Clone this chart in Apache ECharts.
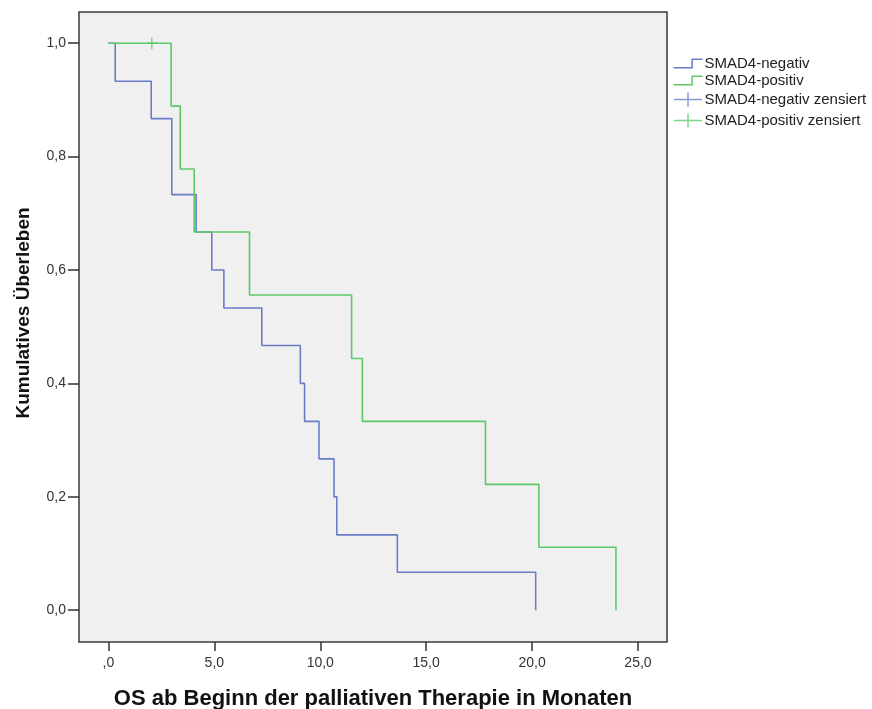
<!DOCTYPE html>
<html>
<head>
<meta charset="utf-8">
<script src="https://cdn.jsdelivr.net/npm/echarts@6/dist/echarts.min.js"></script>
<style>
  html, body { margin: 0; padding: 0; background: #fff; }
  #chart { width: 872px; height: 709px; }
</style>
</head>
<body>
<div id="chart"></div>
<script>
// Kaplan-Meier Daten (Zeit in Monaten, kumulatives Überleben)
var negTimes = [0, 0.32, 2.02, 2.99, 4.14, 4.88, 5.45, 7.24, 9.06, 9.26, 9.94, 10.65, 10.78, 13.64, 20.17];
var negSurv  = [1.0, 0.933, 0.867, 0.733, 0.667, 0.600, 0.533, 0.467, 0.400, 0.333, 0.267, 0.200, 0.133, 0.067, 0.0];
var posTimes = [0, 2.96, 3.39, 4.05, 6.66, 11.48, 11.99, 17.80, 20.32, 23.96];
var posSurv  = [1.0, 0.889, 0.778, 0.667, 0.556, 0.444, 0.333, 0.222, 0.111, 0.0];
var posCensTimes = [2.05];
var posCensSurv  = [1.0];
var negCensTimes = [];
var negCensSurv  = [];

var xTicks = [0, 5, 10, 15, 20, 25];
var yTicks = [0, 0.2, 0.4, 0.6, 0.8, 1.0];

var blue = '#6a7cc8';
var green = '#5cc868';
var stepIcon = 'path://M0,8 L18,8 L18,0 L28,0';
var crossIcon = 'path://M0,7 L28,7 M14,0 L14,14';
var censorMark = 'path://M0,6 L10,6 M5,0 L5,12';

function pairs(xs, ys) {
    var out = [];
    for (var i = 0; i < xs.length; ++i) {
        out.push([xs[i], ys[i]]);
    }
    return out;
}

function fmt(v) {
    return v.toFixed(1).replace('.', ',');
}

var chart = echarts.init(document.getElementById('chart'));
var option = {
    animation: false,
    backgroundColor: '#ffffff',
    textStyle: { fontFamily: 'Liberation Sans, Arial, sans-serif' },
    grid: {
        left: 79, top: 12, width: 588, height: 630,
        outerBoundsMode: 'none', containLabel: false,
        show: true, backgroundColor: '#f0f0f0',
        borderColor: '#3a3a3a', borderWidth: 1.5
    },
    legend: {
        orient: 'vertical', left: 666, top: 51,
        itemWidth: 29, itemHeight: 14, itemGap: 2,
        textStyle: { fontSize: 15, color: '#222', padding: [0, 0, 0, -3] },
        data: [
            { name: 'SMAD4-negativ', icon: stepIcon, itemStyle: { color: 'none', borderColor: blue, borderWidth: 1.5 } },
            { name: 'SMAD4-positiv', icon: stepIcon, itemStyle: { color: 'none', borderColor: green, borderWidth: 1.5 } },
            { name: 'SMAD4-negativ zensiert', icon: crossIcon, itemStyle: { color: 'none', borderColor: blue, borderWidth: 1.5 } },
            { name: 'SMAD4-positiv zensiert', icon: crossIcon, itemStyle: { color: 'none', borderColor: green, borderWidth: 1.5 } }
        ]
    },
    xAxis: {
        type: 'value', min: -1.39, max: 26.37,
        name: 'OS ab Beginn der palliativen Therapie in Monaten',
        nameLocation: 'middle', nameGap: 46,
        nameTextStyle: { fontSize: 22, fontWeight: 'bold', color: '#111' },
        splitLine: { show: false },
        axisLine: { show: false, onZero: false },
        axisTick: { show: true, length: 9, customValues: xTicks, lineStyle: { color: '#333', width: 1.5 } },
        axisLabel: {
            customValues: xTicks, fontSize: 14, color: '#333', margin: 14,
            formatter: function (v) { return v === 0 ? ',0' : fmt(v); }
        }
    },
    yAxis: {
        type: 'value', min: -0.056, max: 1.055,
        name: 'Kumulatives Überleben',
        nameLocation: 'middle', nameGap: 46, nameRotate: 90,
        nameTextStyle: { fontSize: 19, fontWeight: 'bold', color: '#111', padding: [0, 0, 0, 28] },
        splitLine: { show: false },
        axisLine: { show: false, onZero: false },
        axisTick: { show: true, length: 11, customValues: yTicks, lineStyle: { color: '#333', width: 1.5 } },
        axisLabel: {
            customValues: yTicks, fontSize: 14, color: '#333', margin: 13,
            formatter: function (v) { return fmt(v); }
        }
    },
    series: [
        {
            name: 'SMAD4-negativ', type: 'line', step: 'end', symbol: 'none',
            lineStyle: { color: blue, width: 1.6 }, itemStyle: { color: blue },
            data: pairs(negTimes, negSurv)
        },
        {
            name: 'SMAD4-positiv', type: 'line', step: 'end', symbol: 'none',
            lineStyle: { color: green, width: 1.6 }, itemStyle: { color: green },
            data: pairs(posTimes, posSurv)
        },
        {
            name: 'SMAD4-negativ zensiert', type: 'scatter', symbol: censorMark, symbolSize: [10, 12],
            itemStyle: { color: 'none', borderColor: blue, borderWidth: 1.5 },
            data: pairs(negCensTimes, negCensSurv)
        },
        {
            name: 'SMAD4-positiv zensiert', type: 'scatter', symbol: censorMark, symbolSize: [10, 12],
            itemStyle: { color: 'none', borderColor: green, borderWidth: 1.5 },
            data: pairs(posCensTimes, posCensSurv)
        }
    ]
};
chart.setOption(option);
</script>
</body>
</html>
